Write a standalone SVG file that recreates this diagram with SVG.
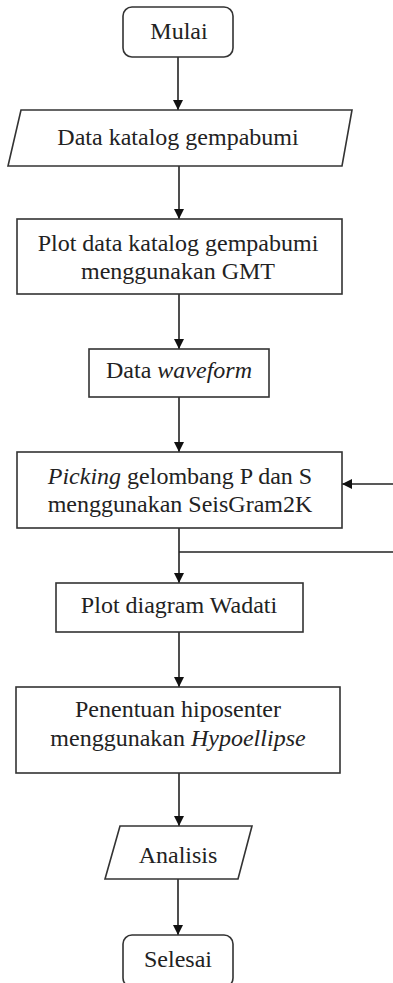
<svg xmlns="http://www.w3.org/2000/svg" width="393" height="983" viewBox="0 0 393 983">
<style>
.s{fill:#fff;stroke:#333;stroke-width:1.6}
.t{font-family:"Liberation Serif","Times New Roman",serif;font-size:24px;fill:#222;text-anchor:middle}
.i{font-style:italic}
.c{fill:none;stroke:#222;stroke-width:1.6}
</style>
<defs>
<marker id="ah" viewBox="0 0 10 10" refX="10" refY="5" markerWidth="10" markerHeight="10" markerUnits="userSpaceOnUse" orient="auto">
<path d="M0,0 L10,5 L0,10 Z" fill="#111"/>
</marker>
</defs>
<rect width="393" height="983" fill="#fff"/>
<g id="connectors">
<line class="c" x1="178" y1="57" x2="178" y2="110" marker-end="url(#ah)"/>
<line class="c" x1="179" y1="166" x2="179" y2="219" marker-end="url(#ah)"/>
<line class="c" x1="179" y1="294" x2="179" y2="349" marker-end="url(#ah)"/>
<line class="c" x1="179" y1="397" x2="179" y2="452" marker-end="url(#ah)"/>
<line class="c" x1="179" y1="528" x2="179" y2="583" marker-end="url(#ah)"/>
<polyline class="c" points="179,552 393,552"/>
<line class="c" x1="393" y1="484" x2="342" y2="484" marker-end="url(#ah)"/>
<line class="c" x1="179" y1="632" x2="179" y2="687" marker-end="url(#ah)"/>
<line class="c" x1="179" y1="773" x2="179" y2="826" marker-end="url(#ah)"/>
<line class="c" x1="178" y1="879" x2="178" y2="935" marker-end="url(#ah)"/>
</g>
<g id="mulai">
<rect class="s" x="123" y="7" width="110" height="50" rx="9"/>
<text class="t" x="179" y="39">Mulai</text>
</g>
<g id="data-katalog">
<polygon class="s" points="21,110 352,110 342,166 8,166"/>
<text class="t" x="178" y="145">Data katalog gempabumi</text>
</g>
<g id="plot-katalog">
<rect class="s" x="17" y="219" width="325" height="75"/>
<text class="t" x="178" y="251">Plot data katalog gempabumi</text>
<text class="t" x="178" y="279">menggunakan GMT</text>
</g>
<g id="data-waveform">
<rect class="s" x="89" y="349" width="180" height="48"/>
<text class="t" x="179" y="378">Data <tspan class="i">waveform</tspan></text>
</g>
<g id="picking">
<rect class="s" x="17" y="452" width="325" height="76"/>
<text class="t" x="180" y="484"><tspan class="i">Picking</tspan> gelombang P dan S</text>
<text class="t" x="180" y="512">menggunakan SeisGram2K</text>
</g>
<g id="wadati">
<rect class="s" x="56" y="583" width="247" height="49"/>
<text class="t" x="179" y="613">Plot diagram Wadati</text>
</g>
<g id="hiposenter">
<rect class="s" x="16" y="687" width="324" height="86"/>
<text class="t" x="178" y="717">Penentuan hiposenter</text>
<text class="t" x="178" y="746">menggunakan <tspan class="i">Hypoellipse</tspan></text>
</g>
<g id="analisis">
<polygon class="s" points="120,826 252,826 238,879 105,879"/>
<text class="t" x="178" y="863">Analisis</text>
</g>
<g id="selesai">
<rect class="s" x="123" y="935" width="110" height="52" rx="9"/>
<text class="t" x="178" y="967">Selesai</text>
</g>
</svg>
